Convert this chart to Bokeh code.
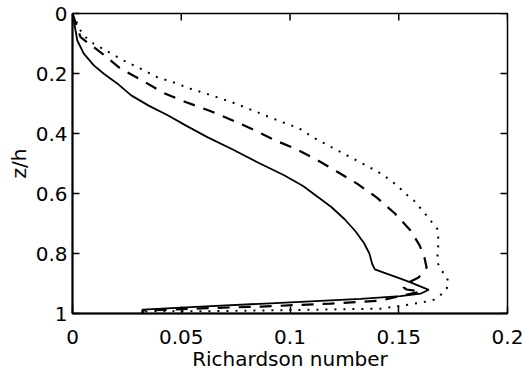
import math
from bokeh.plotting import figure
from bokeh.models import Range1d, FixedTicker
from bokeh.embed import file_html
from bokeh.resources import INLINE

# Data (Richardson number vs z/h)
solid_ri = [0.0, 0.0006, 0.0022, 0.0052, 0.0098, 0.0144, 0.0212, 0.027, 0.035, 0.044,
            0.052, 0.062, 0.073, 0.085, 0.0975, 0.106, 0.1125, 0.119, 0.125, 0.130,
            0.134, 0.1365, 0.1378, 0.139, 0.1431, 0.1508, 0.1554, 0.1638, 0.16, 0.1508,
            0.1324, 0.091, 0.0589, 0.0322, 0.0322]
solid_z = [0.0, 0.023, 0.09, 0.134, 0.173, 0.201, 0.237, 0.273, 0.307, 0.34,
           0.373, 0.412, 0.451, 0.496, 0.54, 0.575, 0.61, 0.645, 0.685, 0.725,
           0.765, 0.80, 0.835, 0.853, 0.864, 0.884, 0.896, 0.921, 0.934, 0.942,
           0.951, 0.966, 0.977, 0.987, 1.0]

dashed_ri = [0.0, 0.0037, 0.0137, 0.0221, 0.032, 0.042, 0.0523, 0.063, 0.0726, 0.0834,
             0.0933, 0.1025, 0.1122, 0.1223, 0.131, 0.1398, 0.148, 0.1554, 0.1596, 0.1618,
             0.1628, 0.1614, 0.1591, 0.1554, 0.1526, 0.1522, 0.1536, 0.16, 0.15, 0.1416,
             0.1186, 0.0864, 0.0589, 0.0322, 0.0322]
dashed_z = [0.0, 0.079, 0.134, 0.184, 0.223, 0.265, 0.296, 0.324, 0.353, 0.388,
            0.423, 0.451, 0.487, 0.53, 0.568, 0.613, 0.665, 0.723, 0.773, 0.813,
            0.847, 0.86, 0.88, 0.893, 0.903, 0.913, 0.92, 0.927, 0.943, 0.957,
            0.967, 0.977, 0.983, 0.99, 1.0]

dotted_ri = [0.0, 0.0037, 0.006, 0.0098, 0.0167, 0.0236, 0.0313, 0.0389, 0.0466, 0.0543,
             0.0619, 0.0696, 0.0734, 0.0811, 0.0887, 0.0964, 0.104, 0.1117, 0.1246, 0.1393,
             0.1431, 0.1493, 0.1531, 0.1569, 0.1615, 0.1646, 0.1677, 0.1684, 0.1678, 0.1678,
             0.1697, 0.172, 0.173, 0.172, 0.17, 0.1661, 0.1615, 0.1523, 0.1416, 0.1048,
             0.068, 0.0322, 0.0322]
dotted_z = [0.0, 0.057, 0.079, 0.101, 0.129, 0.157, 0.184, 0.212, 0.23, 0.251,
            0.268, 0.287, 0.296, 0.318, 0.34, 0.362, 0.382, 0.417, 0.467, 0.523,
            0.54, 0.573, 0.601, 0.623, 0.662, 0.69, 0.718, 0.762, 0.797, 0.83,
            0.857, 0.877, 0.9, 0.917, 0.934, 0.954, 0.962, 0.973, 0.984, 0.988,
            0.992, 0.993, 1.0]

x_ticks = [0, 0.05, 0.1, 0.15, 0.2]
x_tick_labels = ["0", "0.05", "0.1", "0.15", "0.2"]
y_ticks = [0, 0.2, 0.4, 0.6, 0.8, 1]
y_tick_labels = ["0", "0.2", "0.4", "0.6", "0.8", "1"]

X_MIN, X_MAX = 0, 0.2
Z_TOP, Z_BOTTOM = 0, 1

FONT = "DejaVu Sans"
FS = "20px"

p = figure(width=529, height=377, output_backend="svg", toolbar_location=None,
           x_range=Range1d(X_MIN, X_MAX), y_range=Range1d(Z_BOTTOM, Z_TOP),
           min_border_left=72, min_border_right=22, min_border_top=13, min_border_bottom=64)

p.xgrid.visible = False
p.ygrid.visible = False
p.outline_line_color = "black"
p.outline_line_width = 1.5
p.background_fill_color = "white"
p.border_fill_color = "white"

p.line(solid_ri, solid_z, line_color="black", line_width=1.8)
p.line(dashed_ri, dashed_z, line_color="black", line_width=2.2, line_dash="12 9")
p.line(dotted_ri, dotted_z, line_color="black", line_width=2.0, line_dash="2 7")

# inward ticks on the top and right edges (box on), clipped to the frame
p.scatter(x_ticks, [Z_TOP] * len(x_ticks), marker="dash", size=14, angle=math.pi / 2,
          line_color="black", line_width=1.5)
p.scatter([X_MAX] * len(y_ticks), y_ticks, marker="dash", size=14,
          line_color="black", line_width=1.5)

def style_axis(ax, ticks, labels):
    ax.ticker = FixedTicker(ticks=ticks)
    ax.major_label_overrides = {t: l for t, l in zip(ticks, labels)}
    ax.major_tick_in = 7
    ax.major_tick_out = 0
    ax.major_tick_line_width = 1.5
    ax.major_tick_line_color = "black"
    ax.minor_tick_line_color = None
    ax.axis_line_color = "black"
    ax.axis_line_width = 2
    ax.major_label_text_font = FONT
    ax.major_label_text_font_size = FS
    ax.major_label_text_color = "black"
    ax.axis_label_text_font = FONT
    ax.axis_label_text_font_size = FS
    ax.axis_label_text_font_style = "normal"
    ax.axis_label_text_color = "black"

xa = p.xaxis[0]
style_axis(xa, x_ticks, x_tick_labels)
xa.major_label_standoff = 16
xa.axis_label = "Richardson number"
xa.axis_label_standoff = 0

ya = p.yaxis[0]
style_axis(ya, y_ticks, y_tick_labels)
ya.major_label_standoff = 5
ya.axis_label = "z/h"
ya.axis_label_standoff = 2

open("out.html", "w").write(file_html(p, INLINE))
